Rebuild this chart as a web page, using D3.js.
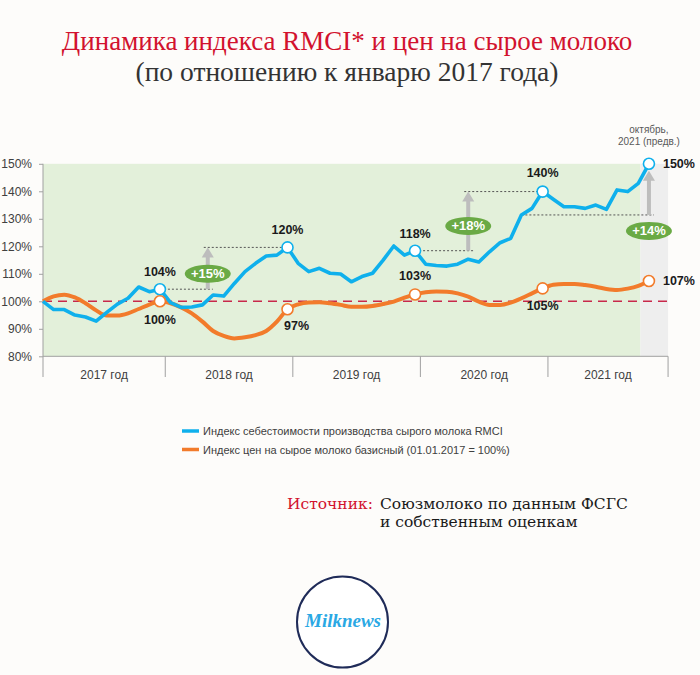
<!DOCTYPE html>
<html lang="ru">
<head>
<meta charset="utf-8">
<script src="https://cdn.jsdelivr.net/npm/d3@7"></script>
<style>
  body { margin: 0; background: #fdfcfa; }
  svg { display: block; }
</style>
</head>
<body>
<svg id="canvas"></svg>
<script>
let width = 700
let height = 675

// данные (индекс к январю 2017 = 100)
let years = ["2017 год", "2018 год", "2019 год", "2020 год", "2021 год"]
let yTicks = [80, 90, 100, 110, 120, 130, 140, 150]
let rmci = [100, 97, 97, 95, 94.3, 92.8, 96, 99, 101.1, 105.2, 103.5, 104.4,
  99.5, 97.8, 97.9, 98.7, 102.3, 101.9, 106.5, 110.8, 113.8, 116.5, 116.8, 119.6,
  113.8, 110.8, 112, 110.2, 109.9, 107.1, 109, 110.2, 115, 120.1, 116.8, 118.4,
  113.5, 113, 112.8, 113.5, 115.3, 114.3, 118, 121.3, 122.9, 131.4, 133.8, 139.9,
  137.1, 134.4, 134.4, 133.8, 135, 133.4, 140.5, 139.9, 142.9, 150]
let milkPrice = [100, 101.8, 102.4, 101.4, 99.3, 96.7, 94.8, 94.8, 95.6, 97.2, 98.8, 100,
  99.3, 97.8, 95.6, 92.6, 89.2, 87.4, 86.5, 86.9, 87.7, 89.2, 92.6, 97.1,
  98.9, 99.6, 99.7, 99.3, 98.7, 98, 98, 98.3, 99, 99.9, 101.3, 102.5,
  103.3, 103.6, 103.5, 102.9, 101.7, 99.9, 98.7, 98.7, 99.5, 101.1, 102.9, 104.7,
  106, 106.3, 106.3, 105.9, 105.3, 104.5, 104.1, 104.6, 105.6, 107.4]
let markIdx = [11, 23, 35, 47, 57]
let rmciLabels = ["104%", "120%", "118%", "140%", "150%"]
let priceLabels = ["100%", "97%", "103%", "105%", "107%"]
let gainFrom = [11, 35, 45]
let gainTo = [23, 47, 57]
let gainAt = [15.5, 40, 57]
let gainBadge = [110, 127.4, 125.6]
let gainText = ["+15%", "+18%", "+14%"]
let legendNames = ["Индекс себестоимости производства сырого молока RMCI",
  "Индекс цен на сырое молоко базисный (01.01.2017 = 100%)"]

let blue = "#0fb0ec"
let orange = "#f27b2b"
let red = "#d2122e"

let svg = d3.select("#canvas")
    .attr("width", width)
    .attr("height", height)
    .style("font-family", "Arial, 'Liberation Sans', sans-serif")

let xScale = d3.scaleLinear().domain([0, 59]).range([43, 670.2])
let yScale = d3.scaleLinear().domain([80, 150]).range([356.3, 163.8])

// заголовок
svg.append("text")
    .attr("x", 347).attr("y", 50)
    .attr("text-anchor", "middle")
    .style("font-family", "'Liberation Serif', serif")
    .style("font-size", "27px")
    .attr("fill", red)
    .text("Динамика индекса RMCI* и цен на сырое молоко")
svg.append("text")
    .attr("x", 347).attr("y", 81)
    .attr("text-anchor", "middle")
    .style("font-family", "'Liberation Serif', serif")
    .style("font-size", "27.5px")
    .attr("fill", "#333")
    .text("(по отношению к январю 2017 года)")

// фон
svg.append("rect")
    .attr("x", xScale(0)).attr("y", yScale(150))
    .attr("width", xScale(56.2) - xScale(0))
    .attr("height", yScale(80) - yScale(150))
    .attr("fill", "#e3f0da")
svg.append("rect")
    .attr("x", xScale(56.2)).attr("y", yScale(150))
    .attr("width", xScale(58.8) - xScale(56.2))
    .attr("height", yScale(80) - yScale(150))
    .attr("fill", "#eeeeee")

// ось Y
let yAxis = d3.axisLeft(yScale)
    .tickValues(yTicks)
    .tickFormat((d) => d + "%")
    .tickSize(4)
let gy = svg.append("g")
    .attr("transform", "translate(" + xScale(0) + ",0)")
    .call(yAxis)
gy.select(".domain").remove()
gy.selectAll("line").attr("stroke", "#a0a0a0")
gy.selectAll("text")
    .attr("x", -11)
    .style("font-size", "12px")
    .style("font-family", "Arial, 'Liberation Sans', sans-serif")
    .attr("fill", "#404040")

svg.append("line")
    .attr("x1", xScale(0)).attr("x2", xScale(0))
    .attr("y1", yScale(150)).attr("y2", 377)
    .attr("stroke", "#a0a0a0")

// ось X с годами
let yearEdges = [0, 11.5, 23.5, 35.5, 47.5, 58.8]
svg.append("line")
    .attr("x1", xScale(0)).attr("x2", xScale(58.8))
    .attr("y1", yScale(80)).attr("y2", yScale(80))
    .attr("stroke", "#a0a0a0")
svg.selectAll(".year-div")
    .data(yearEdges.slice(1))
    .enter()
    .append("line")
    .attr("class", "year-div")
    .attr("x1", (d) => xScale(d)).attr("x2", (d) => xScale(d))
    .attr("y1", yScale(80)).attr("y2", 377)
    .attr("stroke", "#a0a0a0")
svg.selectAll(".year")
    .data(years)
    .enter()
    .append("text")
    .attr("class", "year")
    .attr("x", (d, i) => (xScale(yearEdges[i]) + xScale(yearEdges[i + 1])) / 2)
    .attr("y", 379)
    .attr("text-anchor", "middle")
    .style("font-size", "12px")
    .attr("fill", "#404040")
    .text((d) => d)

// линия 100%
svg.append("line")
    .attr("x1", xScale(0)).attr("x2", xScale(58.8))
    .attr("y1", yScale(100)).attr("y2", yScale(100))
    .attr("stroke", "#c8284a")
    .attr("stroke-width", 1.6)
    .attr("stroke-dasharray", "9,6")

// пунктиры к аннотациям
let dotted = (x1, x2, v) => {
    svg.append("line")
        .attr("x1", x1).attr("x2", x2)
        .attr("y1", yScale(v)).attr("y2", yScale(v))
        .attr("stroke", "#555")
        .attr("stroke-width", 1)
        .attr("stroke-dasharray", "2,2")
}
gainFrom.forEach((f, i) => {
    let lo = rmci[f]
    let hi = rmci[gainTo[i]]
    dotted(xScale(f), xScale(gainAt[i]) + 5, lo)
    if (gainAt[i] != gainTo[i]) dotted(xScale(gainAt[i]) - 4, xScale(gainTo[i]), hi)
})

// линии
let priceLine = d3.line()
    .x((d, i) => xScale(i))
    .y((d) => yScale(d))
    .curve(d3.curveMonotoneX)
svg.append("path")
    .datum(milkPrice)
    .attr("d", priceLine)
    .attr("fill", "none")
    .attr("stroke", orange)
    .attr("stroke-width", 4)

let rmciLine = d3.line()
    .x((d, i) => xScale(i))
    .y((d) => yScale(d))
svg.append("path")
    .datum(rmci)
    .attr("d", rmciLine)
    .attr("fill", "none")
    .attr("stroke", blue)
    .attr("stroke-width", 3.6)
    .attr("stroke-linejoin", "round")

// стрелки и бейджи прироста
gainFrom.forEach((f, i) => {
    let x = xScale(gainAt[i])
    let y0 = yScale(rmci[f])
    let y1 = yScale(rmci[gainTo[i]]) + (gainAt[i] == gainTo[i] ? 7 : 0)
    svg.append("line")
        .attr("x1", x).attr("x2", x)
        .attr("y1", y0).attr("y2", y1 + 9)
        .attr("stroke", "#bdbdbd")
        .attr("stroke-width", 4)
    svg.append("path")
        .attr("d", "M" + (x - 6) + "," + (y1 + 10) + "L" + x + "," + y1 + "L" + (x + 6) + "," + (y1 + 10) + "Z")
        .attr("fill", "#bdbdbd")
})
svg.selectAll(".badge")
    .data(gainText)
    .enter()
    .append("ellipse")
    .attr("class", "badge")
    .attr("cx", (d, i) => xScale(gainAt[i]))
    .attr("cy", (d, i) => yScale(gainBadge[i]))
    .attr("rx", 23)
    .attr("ry", 9)
    .attr("fill", "#6aaa45")
svg.selectAll(".badge-text")
    .data(gainText)
    .enter()
    .append("text")
    .attr("class", "badge-text")
    .attr("x", (d, i) => xScale(gainAt[i]))
    .attr("y", (d, i) => yScale(gainBadge[i]) + 4.5)
    .attr("text-anchor", "middle")
    .style("font-size", "13px")
    .style("font-weight", "bold")
    .attr("fill", "#fff")
    .text((d) => d)

// маркеры
let drawMarks = (series, color) => {
    svg.selectAll(null)
        .data(markIdx)
        .enter()
        .append("circle")
        .attr("cx", (d) => xScale(d))
        .attr("cy", (d) => yScale(series[d]))
        .attr("r", 5.5)
        .attr("fill", "#fff")
        .attr("stroke", color)
        .attr("stroke-width", 1.6)
}
drawMarks(rmci, blue)
drawMarks(milkPrice, orange)

// подписи точек
let rmciPos = [[0, -13], [0, -13.5], [0, -12.5], [0, -15], [14, 4.5]]
let pricePos = [[0, 22.5], [9, 21], [0, -14.5], [0, 21.5], [14, 4]]
let drawLabels = (series, labels, pos) => {
    svg.selectAll(null)
        .data(labels)
        .enter()
        .append("text")
        .attr("x", (d, i) => xScale(markIdx[i]) + pos[i][0])
        .attr("y", (d, i) => yScale(series[markIdx[i]]) + pos[i][1])
        .attr("text-anchor", (d, i) => pos[i][0] > 10 ? "start" : "middle")
        .style("font-size", "12.5px")
        .style("font-weight", "bold")
        .attr("fill", "#1a1a1a")
        .text((d) => d)
}
drawLabels(rmci, rmciLabels, rmciPos)
drawLabels(milkPrice, priceLabels, pricePos)

svg.append("text")
    .attr("x", xScale(57)).attr("y", 133)
    .attr("text-anchor", "middle")
    .style("font-size", "10px")
    .attr("fill", "#595959")
    .text("октябрь,")
svg.append("text")
    .attr("x", xScale(57)).attr("y", 145)
    .attr("text-anchor", "middle")
    .style("font-size", "10px")
    .attr("fill", "#595959")
    .text("2021 (предв.)")

// легенда
let legend = svg.selectAll(".legend")
    .data(legendNames)
    .enter()
    .append("g")
    .attr("class", "legend")
    .attr("transform", (d, i) => "translate(182," + (431 + i * 18.5) + ")")
legend.append("line")
    .attr("x1", 0).attr("x2", 17)
    .attr("stroke", (d, i) => i == 0 ? blue : orange)
    .attr("stroke-width", 3.5)
legend.append("text")
    .attr("x", 21).attr("y", 4)
    .style("font-size", "11px")
    .attr("fill", "#404040")
    .text((d) => d)

// источник
let src = svg.append("g")
    .style("font-family", "'DejaVu Serif', serif")
    .style("font-size", "15.5px")
src.append("text")
    .attr("x", 287).attr("y", 509)
    .attr("fill", red)
    .text("Источник:")
src.append("text")
    .attr("x", 380).attr("y", 509)
    .attr("fill", "#1a1a1a")
    .text("Союзмолоко по данным ФСГС")
src.append("text")
    .attr("x", 380).attr("y", 527)
    .attr("fill", "#1a1a1a")
    .text("и собственным оценкам")

// логотип
svg.append("circle")
    .attr("cx", 342.5).attr("cy", 622)
    .attr("r", 45.5)
    .attr("fill", "#fff")
    .attr("stroke", "#1f2b58")
    .attr("stroke-width", 2)
svg.append("text")
    .attr("x", 343).attr("y", 627)
    .attr("text-anchor", "middle")
    .style("font-family", "'Liberation Serif', serif")
    .style("font-style", "italic")
    .style("font-weight", "bold")
    .style("font-size", "19px")
    .attr("fill", "#2aa8e4")
    .text("Milknews")
</script>
</body>
</html>
